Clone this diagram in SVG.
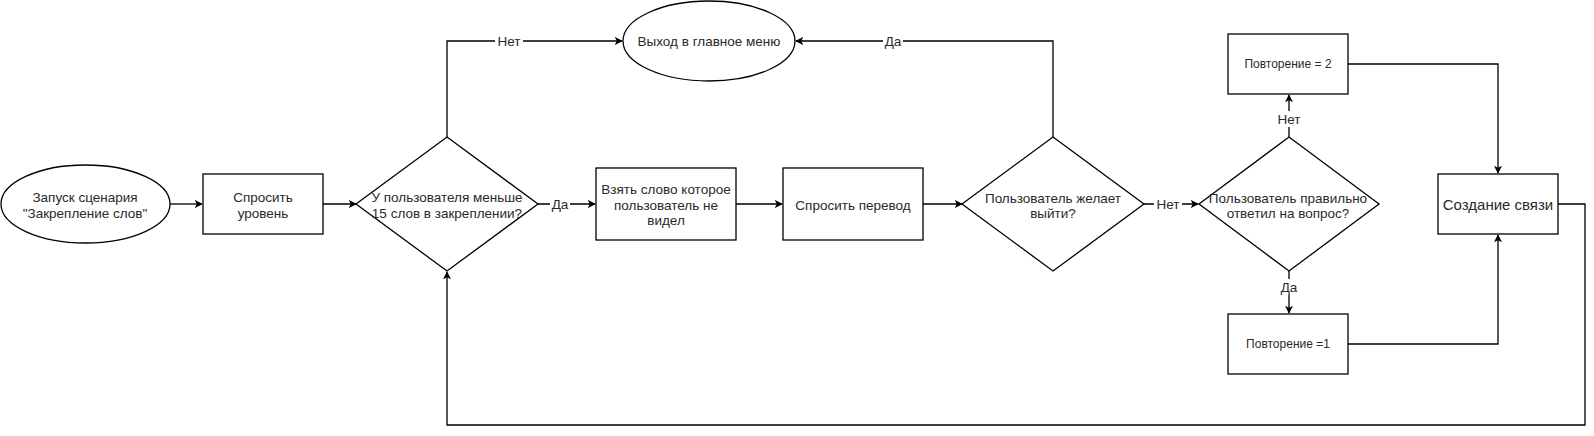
<svg xmlns="http://www.w3.org/2000/svg" width="1594" height="436" viewBox="0 0 1594 436">
<style>
.s{fill:#fff;stroke:#000;stroke-width:1.3}
.t{font-family:"Liberation Sans",Arial,sans-serif;font-size:13.5px;fill:#2a2a2a;text-anchor:middle;dominant-baseline:central}
.sm{font-size:12px}
.lg{font-size:15px}
.c{fill:none;stroke:#000;stroke-width:1.3}
.lb{font-family:"Liberation Sans",Arial,sans-serif;font-size:13.5px;fill:#2a2a2a;text-anchor:middle;dominant-baseline:central}
</style>
<defs>
<marker id="a" viewBox="0 0 10 10" refX="9" refY="5" markerWidth="8" markerHeight="8" markerUnits="userSpaceOnUse" orient="auto">
<path d="M0,0 L10,5 L0,10 L2.5,5 z" fill="#000"/>
</marker>
</defs>
<g id="connectors">
<path class="c" d="M170,204 H202" marker-end="url(#a)"/>
<path class="c" d="M323,204 H356" marker-end="url(#a)"/>
<path class="c" d="M447,137 V41 H622" marker-end="url(#a)"/>
<path class="c" d="M538,204 H595" marker-end="url(#a)"/>
<path class="c" d="M736,204 H782" marker-end="url(#a)"/>
<path class="c" d="M923,204 H962" marker-end="url(#a)"/>
<path class="c" d="M1053,137 V41 H796" marker-end="url(#a)"/>
<path class="c" d="M1144,204 H1198" marker-end="url(#a)"/>
<path class="c" d="M1289,137 V95" marker-end="url(#a)"/>
<path class="c" d="M1289,271 V313" marker-end="url(#a)"/>
<path class="c" d="M1348,64 H1498 V173" marker-end="url(#a)"/>
<path class="c" d="M1348,344 H1498 V235" marker-end="url(#a)"/>
<path class="c" d="M1558,204 H1585 V425 H447 V272" marker-end="url(#a)"/>
<rect x="495" y="33" width="28" height="16" fill="#fff"/>
<text class="lb" x="509" y="41">Нет</text>
<rect x="883" y="33" width="20" height="16" fill="#fff"/>
<text class="lb" x="893" y="41">Да</text>
<rect x="550" y="196" width="20" height="16" fill="#fff"/>
<text class="lb" x="560" y="204">Да</text>
<rect x="1154" y="196" width="28" height="16" fill="#fff"/>
<text class="lb" x="1168" y="204">Нет</text>
<rect x="1275" y="111" width="28" height="16" fill="#fff"/>
<text class="lb" x="1289" y="119">Нет</text>
<rect x="1279" y="279" width="20" height="16" fill="#fff"/>
<text class="lb" x="1289" y="287">Да</text>
</g>
<g id="start">
<ellipse class="s" cx="85.5" cy="204" rx="84.5" ry="39"/>
<text class="t" x="85" y="197">Запуск сценария</text>
<text class="t" x="85" y="213">"Закрепление слов"</text>
</g>
<g id="ask-level">
<rect class="s" x="203" y="174" width="120" height="60"/>
<text class="t" x="263" y="197">Спросить</text>
<text class="t" x="263" y="213">уровень</text>
</g>
<g id="check-count">
<path class="s" d="M447,137 L538,204 L447,271 L356,204 Z"/>
<text class="t" x="447" y="197">У пользователя меньше</text>
<text class="t" x="447" y="213">15 слов в закреплении?</text>
</g>
<g id="exit">
<ellipse class="s" cx="709" cy="41" rx="86" ry="40"/>
<text class="t" x="709" y="41">Выход в главное меню</text>
</g>
<g id="take-word">
<rect class="s" x="596" y="168" width="140" height="72"/>
<text class="t" x="666" y="189">Взять слово которое</text>
<text class="t" x="666" y="205">пользователь не</text>
<text class="t" x="666" y="220">видел</text>
</g>
<g id="ask-translation">
<rect class="s" x="783" y="168" width="140" height="72"/>
<text class="t" x="853" y="205">Спросить перевод</text>
</g>
<g id="wants-exit">
<path class="s" d="M1053,137 L1144,204 L1053,271 L962,204 Z"/>
<text class="t" x="1053" y="198">Пользователь желает</text>
<text class="t" x="1053" y="213">выйти?</text>
</g>
<g id="correct">
<path class="s" d="M1289,137 L1379,204 L1289,271 L1199,204 Z"/>
<text class="t" x="1288" y="198">Пользователь правильно</text>
<text class="t" x="1288" y="213">ответил на вопрос?</text>
</g>
<g id="rep2">
<rect class="s" x="1228" y="34" width="120" height="60"/>
<text class="t sm" x="1288" y="64">Повторение = 2</text>
</g>
<g id="rep1">
<rect class="s" x="1228" y="314" width="120" height="60"/>
<text class="t sm" x="1288" y="344">Повторение =1</text>
</g>
<g id="link">
<rect class="s" x="1438" y="174" width="120" height="60"/>
<text class="t lg" x="1498" y="204">Создание связи</text>
</g>
</svg>
